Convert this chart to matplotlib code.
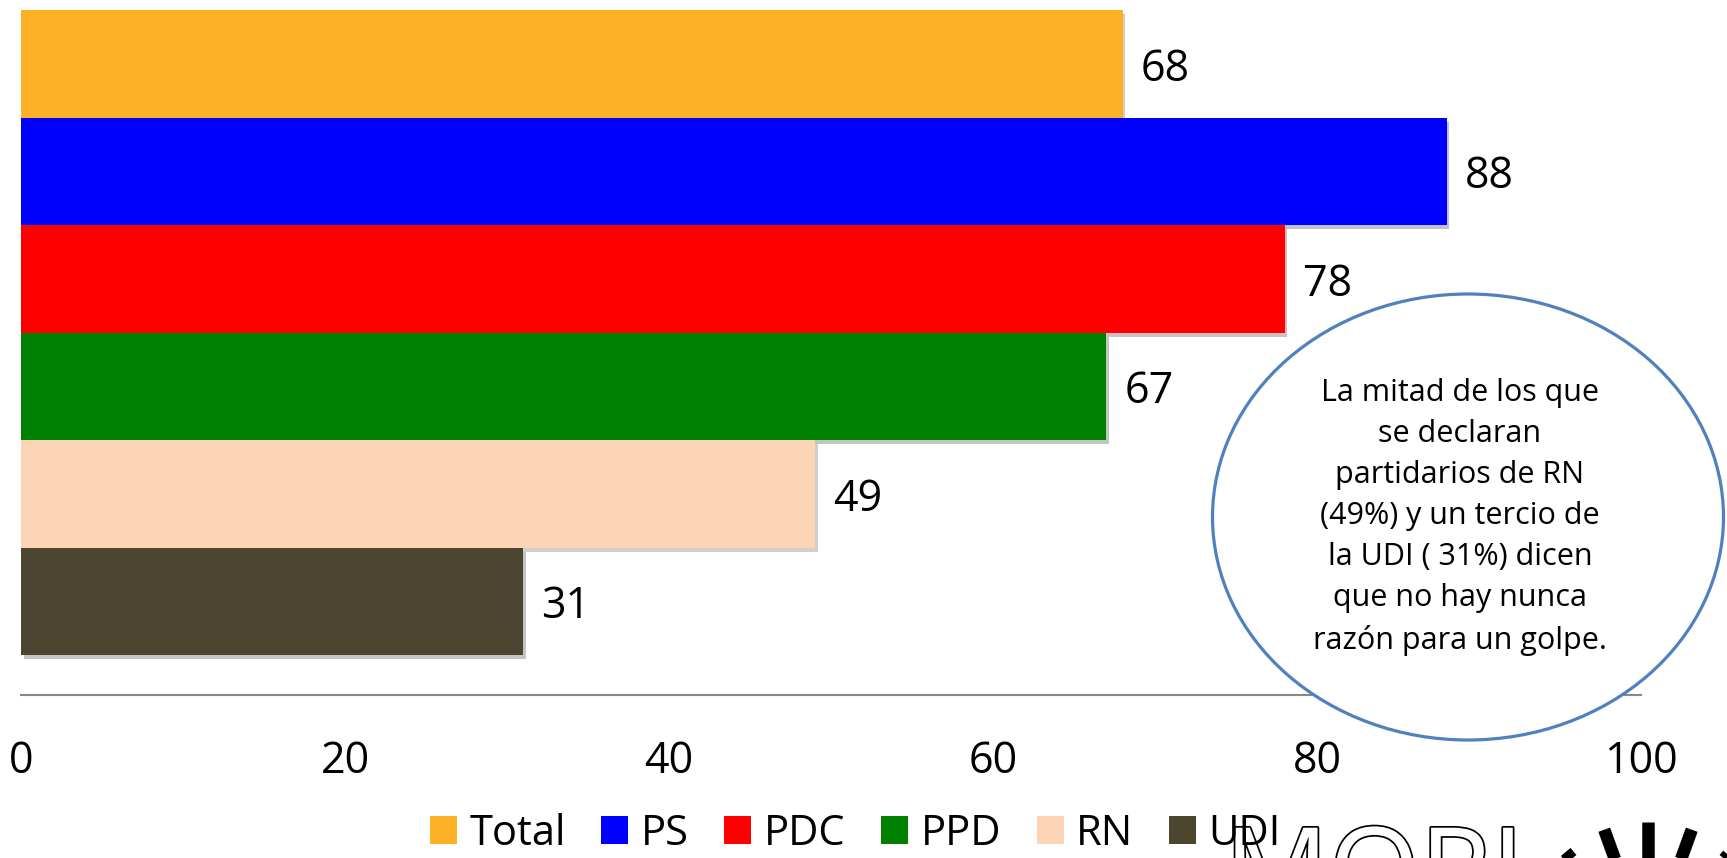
import numpy as np
import matplotlib
matplotlib.use("Agg")
import matplotlib.pyplot as plt
import matplotlib.patheffects as pe
from matplotlib.patches import Ellipse, Patch
from matplotlib.lines import Line2D
from matplotlib.transforms import IdentityTransform

plt.rcParams['font.family'] = ['Open Sans', 'DejaVu Sans']

# data
partidos = ['Total', 'PS', 'PDC', 'PPD', 'RN', 'UDI']
valores = [68, 88, 78, 67, 49, 31]
colores = ['#FDB225', '#0000FF', '#FF0000', '#008000', '#FBD5B5', '#4C452F']
ticks_x = [0, 20, 40, 60, 80, 100]

nota = ("La mitad de los que\nse declaran\npartidarios de RN\n(49%) y un tercio de\n"
        "la UDI ( 31%) dicen\nque no hay nunca\nrazón para un golpe.")

W, H = 1727, 858
fig = plt.figure(figsize=(W / 100, H / 100), dpi=100)
ax = fig.add_axes([21 / W, 1 - 695 / H, 1620 / W, 685 / H])

pos = list(range(len(partidos)))
bars = ax.barh(pos, valores, height=1.0, color=colores, zorder=2)
for b in bars:
    b.set_path_effects([pe.SimplePatchShadow(offset=(2, -3), alpha=0.25), pe.Normal()])

for i, v in zip(pos, valores):
    ax.annotate(str(v), (v, i), xytext=(13, -4), textcoords='offset points',
                va='center', ha='left', fontsize=31)

ax.set_xlim(0, 100)
ax.set_ylim(5.5 + 40 / 107.5, -0.5)
ax.set_xticks(ticks_x)
ax.set_xticklabels([str(t) for t in ticks_x], fontsize=31)
ax.tick_params(axis='x', length=0, pad=32)
ax.set_yticks([])
for s in ['top', 'left', 'right']:
    ax.spines[s].set_visible(False)
ax.spines['bottom'].set_color('#898989')
ax.spines['bottom'].set_linewidth(1.5)

handles = [Patch(facecolor=c, edgecolor='none') for c in colores]
fig.legend(handles, partidos, loc='center left', bbox_to_anchor=(430 / W, 0.028),
           ncol=6, frameon=False, fontsize=30, borderpad=0, borderaxespad=0,
           handlelength=0.65, handleheight=0.65, handletextpad=0.3, columnspacing=0.85)

# nota en el ovalo
ell = Ellipse((1468 / W, 1 - 517 / H), 511 / W, 446 / H,
              transform=fig.transFigure, facecolor='white', edgecolor='#4F81BD',
              linewidth=2.3, zorder=5)
fig.patches.append(ell)
fig.text(1460 / W, 1 - 517 / H, nota, ha='center', va='center',
         multialignment='center', fontsize=22, linespacing=1.48, zorder=6)

# logo (cortado en el borde inferior)
fig.text(1224 / W, 1 - 822 / H, 'MORI', ha='left', va='top', fontsize=84,
         color='white', zorder=1,
         path_effects=[pe.withStroke(linewidth=2.5, foreground='black')])
cx, cy = 1648, H - 950
for ang in [30, 50, 70, 90, 110, 130, 150, 170]:
    a = np.deg2rad(ang)
    fig.add_artist(Line2D([cx + 92 * np.cos(a), cx + 128 * np.cos(a)],
                          [cy + 92 * np.sin(a), cy + 128 * np.sin(a)],
                          transform=IdentityTransform(), color='black', linewidth=9,
                          solid_capstyle='butt'))

fig.savefig('out.png', dpi=100)
